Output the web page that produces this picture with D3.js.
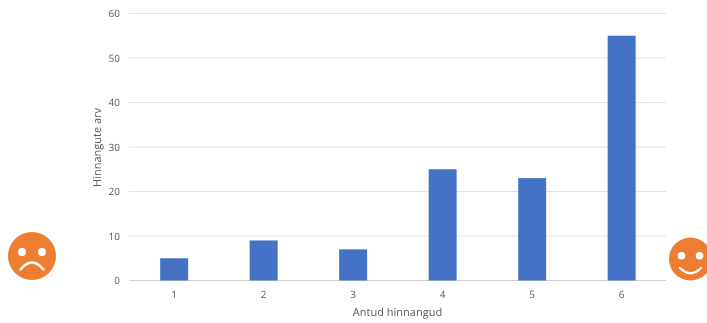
<!DOCTYPE html>
<html>
<head>
<meta charset="utf-8">
<script src="https://cdn.jsdelivr.net/npm/d3@7"></script>
<style>
html,body{margin:0;padding:0;background:#fff;overflow:hidden}
svg{display:block}
text{font-family:"Open Sans",sans-serif;fill:#595959;text-rendering:geometricPrecision}
.labels{opacity:0.99}
</style>
</head>
<body>
<svg id="chart" width="707" height="323"></svg>
<script>
const categories = ["1","2","3","4","5","6"];
const counts = [5,9,7,25,23,55];
const yTicks = [0,10,20,30,40,50,60];
const xTitle = "Antud hinnangud";
const yTitle = "Hinnangute arv";

const svg = d3.select("#chart");
const x = d3.scaleBand().domain(categories).range([129.4,666.4]).paddingInner(0.6875).paddingOuter(0.34375);
const y = d3.scaleLinear().domain([0,60]).range([280.5,13.5]);

// horizontal gridlines
svg.append("g").selectAll("line").data(yTicks).join("line")
  .attr("x1",129).attr("x2",666)
  .attr("y1",d=>y(d)).attr("y2",d=>y(d))
  .attr("stroke",d=>d===0?"#d0d0d0":"#e3e3e3").attr("stroke-width",1);

// bars
svg.append("g").selectAll("rect").data(counts).join("rect")
  .attr("x",(d,i)=>x(categories[i]))
  .attr("width",x.bandwidth())
  .attr("y",d=>y(d))
  .attr("height",d=>y(0)-y(d))
  .attr("fill","#4472c4");

// axis labels and titles share one group
const labels = svg.append("g").attr("class","labels");
const yAxis = d3.axisLeft(y).tickValues(yTicks).tickSize(0).tickPadding(9);
const gy = labels.append("g").attr("transform","translate(129,0)").call(yAxis);
gy.select(".domain").remove();
gy.selectAll("text").style("font-size","10px");

const xAxis = d3.axisBottom(x).tickSize(0).tickPadding(10);
const gx = labels.append("g").attr("transform","translate(0,280.5)").call(xAxis);
gx.select(".domain").remove();
gx.selectAll("text").style("font-size","10px");
labels.selectAll("g").attr("font-family",null);

labels.append("text").attr("x",397.5).attr("y",316).attr("text-anchor","middle")
  .style("font-size","11px").text(xTitle);
labels.append("text").attr("transform","translate(101,147.5) rotate(-90)").attr("text-anchor","middle")
  .style("font-size","11px").text(yTitle);

// rating faces at either end of the scale
function face(cx,cy,r,eyeDx,eyeDy,eyeR,mouth){
  const g = svg.append("g");
  g.append("circle").attr("cx",cx).attr("cy",cy).attr("r",r).attr("fill","#ed7d31");
  [-eyeDx,eyeDx].forEach(dx=>g.append("circle").attr("cx",cx+dx).attr("cy",cy+eyeDy).attr("r",eyeR).attr("fill","#fff"));
  g.append("path").attr("d",mouth).attr("fill","none").attr("stroke","#fff").attr("stroke-width",2.3).attr("stroke-linecap","round");
}
face(32,256,24,10,-4,4,"M20.5,269.5Q32,255.5 43.5,269.5");
face(690.5,259,21.5,9,-3.3,3.8,"M680,268Q690.5,278.5 701,268");
</script>
</body>
</html>
